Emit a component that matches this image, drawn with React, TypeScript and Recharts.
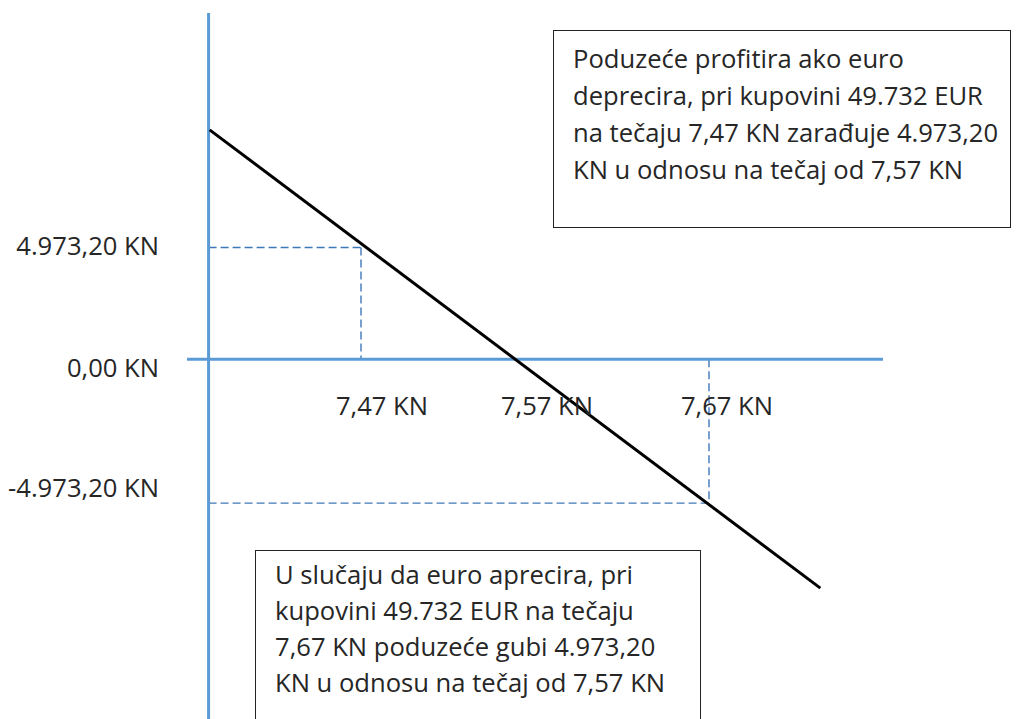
import React from 'react';
import { ComposedChart, Line, XAxis, YAxis, ReferenceLine, ReferenceDot } from 'recharts';

// tečaj (KN za 1 EUR) na x osi, rezultat u KN na y osi
const rateDomain = [7.37, 7.77];
const resultDomain = [-16000, 15400];
const yAxisRate = 7.3824;

const rateTicks = [7.47, 7.57, 7.67];
const rateTickLabels = ['7,47 KN', '7,57 KN', '7,67 KN'];

const resultTicks = [4973.2, 0, -6400];
const resultTickLabels = ['4.973,20 KN', '0,00 KN', '-4.973,20 KN'];

const profitLine = [
  { rate: 7.383, result: 10200 },
  { rate: 7.734, result: -10180 },
];

const gainPoint = { rate: 7.47, result: 4973.2 };
const lossPoint = { rate: 7.67, result: -6400 };

const gainNote = [
  'Poduzeće profitira ako euro',
  'deprecira, pri kupovini 49.732 EUR',
  'na tečaju 7,47 KN zarađuje 4.973,20',
  'KN u odnosu na tečaj od 7,57 KN',
];

const lossNote = [
  'U slučaju da euro aprecira, pri',
  'kupovini 49.732 EUR na tečaju',
  '7,67 KN poduzeće gubi 4.973,20',
  'KN u odnosu na tečaj od 7,57 KN',
];

const FONT = '"Open Sans", sans-serif';
const FONT_SIZE = 25.6;
const TEXT = '#262626';
const AXIS_BLUE = '#5B9BD5';
const GUIDE_BLUE = '#3F78B8';

// small nudges so labels sit where they are drawn in the original sketch
const yLabelShift = [8, 18, -6];
const xLabelShift = [21, 12, 18];

const YTick = ({ x, y, index }: any) => (
  <text x={x} y={y + yLabelShift[index]} textAnchor="end" fontFamily={FONT} fontSize={FONT_SIZE} fill={TEXT}>
    {resultTickLabels[index]}
  </text>
);

const guide = { stroke: GUIDE_BLUE, strokeWidth: 1.4, strokeDasharray: '8 4', ifOverflow: 'visible' as const };

const Note = ({ lines, left, top, width, height, padTop, lineHeight }: any) => (
  <div
    style={{
      position: 'absolute',
      left,
      top,
      width,
      height,
      boxSizing: 'border-box',
      border: '1.5px solid #222',
      background: '#fff',
      paddingTop: padTop,
      paddingLeft: 19,
      fontFamily: FONT,
      fontSize: FONT_SIZE,
      lineHeight: `${lineHeight}px`,
      color: TEXT,
      whiteSpace: 'nowrap',
    }}
  >
    {lines.map((l: string) => (
      <div key={l}>{l}</div>
    ))}
  </div>
);

export default function App() {
  return (
    <div style={{ position: 'absolute', left: 0, top: 0, width: 1024, height: 719, overflow: 'hidden', background: '#fff' }}>
      <ComposedChart width={1024} height={719} data={profitLine} margin={{ top: 13, right: 141, bottom: 0, left: 0 }}>
        <XAxis type="number" dataKey="rate" domain={rateDomain} ticks={rateTicks} hide />
        <YAxis
          type="number"
          domain={resultDomain}
          ticks={resultTicks}
          width={187}
          axisLine={false}
          tickLine={false}
          tickSize={0}
          tickMargin={28}
          tick={<YTick />}
          interval={0}
        />

        <ReferenceLine segment={[{ x: yAxisRate, y: gainPoint.result }, { x: gainPoint.rate, y: gainPoint.result }]} {...guide} />
        <ReferenceLine segment={[{ x: gainPoint.rate, y: gainPoint.result }, { x: gainPoint.rate, y: 0 }]} {...guide} />
        <ReferenceLine segment={[{ x: lossPoint.rate, y: 0 }, { x: lossPoint.rate, y: lossPoint.result }]} {...guide} />
        <ReferenceLine segment={[{ x: yAxisRate, y: lossPoint.result }, { x: lossPoint.rate, y: lossPoint.result }]} {...guide} />

        <ReferenceLine x={yAxisRate} stroke={AXIS_BLUE} strokeWidth={3} />
        <ReferenceLine y={0} stroke={AXIS_BLUE} strokeWidth={3} />

        {rateTicks.map((r, i) => (
          <ReferenceDot
            key={r}
            x={r}
            y={0}
            r={0}
            ifOverflow="visible"
            shape={(p: any) => (
              <text x={p.cx + xLabelShift[i]} y={p.cy + 56} textAnchor="middle" fontFamily={FONT} fontSize={FONT_SIZE} fill={TEXT}>
                {rateTickLabels[i]}
              </text>
            )}
          />
        ))}

        <Line type="linear" dataKey="result" stroke="#000" strokeWidth={3} dot={false} activeDot={false} isAnimationActive={false} />
      </ComposedChart>

      <Note lines={gainNote} left={553} top={30} width={458} height={198} padTop={9} lineHeight={37} />
      <Note lines={lossNote} left={255} top={550} width={446} height={200} padTop={6} lineHeight={36} />
    </div>
  );
}
